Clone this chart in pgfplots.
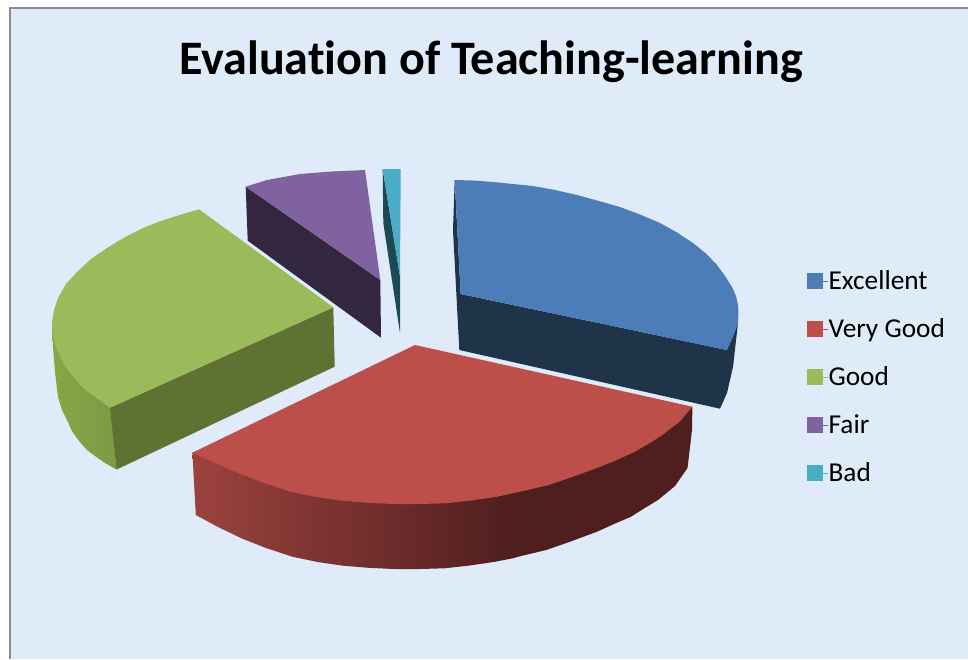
\documentclass[border=0pt]{standalone}
\usepackage{pgfplots}
\pgfplotsset{compat=1.18}
\usepackage{fontspec}
\setmainfont[Ligatures=CommonOff]{Carlito}
\definecolor{bgc}{HTML}{DFEBF8}
\definecolor{frameg}{HTML}{8C8C8C}
\definecolor{blueT}{HTML}{4C7DB9}
\definecolor{blueS}{HTML}{1F3349}
\definecolor{redT}{HTML}{BD4F4B}
\definecolor{redL}{HTML}{9C423E}
\definecolor{redD}{HTML}{4F1E1E}
\definecolor{greenT}{HTML}{9BBA59}
\definecolor{greenS}{HTML}{5F7232}
\definecolor{greenL}{HTML}{88A548}
\definecolor{greenM}{HTML}{7D9A42}
\definecolor{purpT}{HTML}{8062A0}
\definecolor{purpS}{HTML}{33263F}
\definecolor{tealT}{HTML}{4BACC6}
\definecolor{tealS}{HTML}{1B4A54}
\begin{document}
\begin{tikzpicture}
\begin{axis}[
  scale only axis, width=968pt, height=659pt,
  xmin=0, xmax=968, ymin=0, ymax=659, y dir=reverse,
  hide axis, clip=true,
  legend cell align=left,
  legend style={at={(axis cs:807,269.5)},anchor=north west,draw=none,fill=none,
    font=\fontsize{27.3}{30}\selectfont,row sep=26pt,inner sep=0pt,
    nodes={inner sep=0pt,anchor=west,text height=19.5pt,text depth=2.5pt}},
  legend image code/.code={\fill[#1] (6pt,-7.5pt) rectangle (21pt,7.5pt);\path (6pt,0pt) -- (27pt,0pt);},
]
% legend
\addlegendimage{blueT}\addlegendentry{Excellent}
\addlegendimage{redT}\addlegendentry{Very Good}
\addlegendimage{greenT}\addlegendentry{Good}
\addlegendimage{purpT}\addlegendentry{Fair}
\addlegendimage{tealT}\addlegendentry{Bad}
% page, background panel and frame
\addplot[fill=white,draw=none,forget plot] coordinates {(0,0)(968,0)(968,659)(0,659)} --cycle;
\addplot[fill=bgc,draw=none,forget plot] coordinates {(10,8)(968,8)(968,659)(10,659)} --cycle;
\addplot[frameg,line width=1.5pt,forget plot] coordinates {(10,659)(10,8)(968,8)};
% Green
\addplot[draw=none,left color=greenL,right color=greenM,forget plot] coordinates {
 (52,323)(53,347)(55,372)(58,397)(62,410)(67,420)(72,431)(79,441)(87,450)(95,456)(105,463)(116.5,469.5)(110,400)} --cycle;
\addplot[fill=greenS,draw=none,forget plot] coordinates {(333.3,307.3)(110,407.7)(116.5,469.5)(334.7,366.7)} --cycle;
\addplot[fill=greenT,draw=none,forget plot] coordinates {
 (199,209.3)(333.3,307.3)(110,407.7)(95,397)(83,388)(72,375)(63,363)(57,350)(53,337)(52,323)(54,310)(58,298)(66,284)(77,272)(91,259)(107,248)(125,237)(143,228)(158,222)(173,217)} --cycle;
% Purple
\addplot[fill=purpS,draw=none,forget plot] coordinates {(245.7,186.7)(380.3,280)(381,337.7)(247.7,240.7)} --cycle;
\addplot[fill=purpT,draw=none,forget plot] coordinates {(245.7,186.7)(267,180)(300,174)(332,171.5)(365,170)(380.3,280)} --cycle;
% Teal
\addplot[fill=tealS,draw=none,forget plot] coordinates {(382.7,169)(383.3,223)(400,333)(400,276.7)} --cycle;
\addplot[fill=tealT,draw=none,forget plot] coordinates {(382.7,169)(400.7,169)(400,276.7)} --cycle;
% Blue
\addplot[fill=blueS,draw=none,forget plot] coordinates {(454.7,180)(453,230)(459.3,350)(720,408.7)(727,393)(733,367)(738,323)(727,350)(460.7,294)} --cycle;
\addplot[fill=blueT,draw=none,forget plot] coordinates {
 (454.7,180)(473,180.5)(493,182)(513,184)(533,186)(555,190)(577,195)(599,201)(620,207)(640,214.5)(660,223)(677,232.5)(693,243)(706,253.5)(717,265)(725,276)(732,287)(736,296)(738,305)(738.5,314)(738,323)(733,337)(727,350)(460.7,294)} --cycle;
% Red
\addplot[draw=none,left color=redL,right color=redD,forget plot] coordinates {
 (192.4,452.7)(195.8,515)(218,527)(241.5,538.3)(266,548)(292.3,556.7)(317.5,562)(343,565.7)(368.5,567.8)(394,569)(419.7,569)(444.7,568.3)(469.8,565.5)(495.4,561.7)(514,558)(514,470)} --cycle;
\addplot[fill=redD,draw=none,forget plot] coordinates {
 (513,558.2)(521,556)(546.3,550)(572,541)(597,531.7)(614,524)(631,516.7)(644.8,508)(658,500)(675,486)(687.5,468)(692,430)(692.4,406.7)(513,440)} --cycle;
\addplot[fill=redT,draw=none,forget plot] coordinates {
 (415,345)(692.4,406.7)(679.6,421.7)(662.4,435)(649,443.5)(634.9,451.7)(618,459.5)(600.4,466.7)(575,476)(548.8,485)(523,491)(497.1,496.7)(471,500.5)(445.5,503.3)(420,504)(393.8,504)(368,502.8)(342.2,500.7)(316,497)(290.5,491.7)(264,483)(238.9,473.3)(215,463)(192.4,452.7)} --cycle;
% Title
\node[font=\fontsize{48.1}{56}\selectfont\bfseries,anchor=center] at (axis cs:491,62) {Evaluation of Teaching-learning};
\end{axis}
\end{tikzpicture}
\end{document}
